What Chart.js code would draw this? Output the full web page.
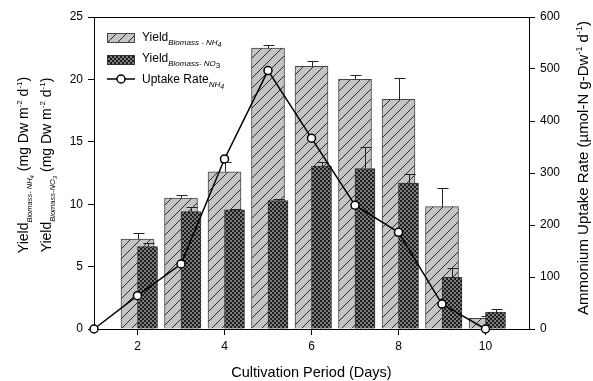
<!DOCTYPE html>
<html>
<head>
<meta charset="utf-8">
<script src="https://cdn.jsdelivr.net/npm/chart.js@4.4.1/dist/chart.umd.min.js"></script>
<style>
  html, body { margin: 0; padding: 0; background: #fff; }
  #wrap { width: 593px; height: 381px; }
</style>
</head>
<body>
<div id="wrap"><canvas id="c" width="593" height="381"></canvas></div>
<script>
// ── data ──
const days = [1, 2, 3, 4, 5, 6, 7, 8, 9, 10];
const barDays = [2, 3, 4, 5, 6, 7, 8, 9, 10];
const yieldNH4 = [7.2, 10.5, 12.6, 22.5, 21.05, 20.0, 18.4, 9.8, 0.85];
const yieldNH4Err = [0.48, 0.2, 0.8, 0.27, 0.42, 0.32, 1.74, 1.47, 0.2];
const yieldNO3 = [6.6, 9.4, 9.55, 10.3, 13.05, 12.85, 11.7, 4.15, 1.35];
const yieldNO3Err = [0.27, 0.4, 0.1, 0.08, 0.37, 1.77, 0.72, 0.77, 0.24];
const uptakeNH4 = [0, 64, 125, 327, 497, 367, 238, 186, 48, 0];
const xTicks = [2, 4, 6, 8, 10];
const leftTicks = [0, 5, 10, 15, 20, 25];
const rightTicks = [0, 100, 200, 300, 400, 500, 600];

const FONT = "'Liberation Sans', Arial, sans-serif";
const NO3_SHIFT = 0.23;   // NO3 bar sits just right of the day tick

Chart.defaults.font.family = FONT;
Chart.defaults.color = '#000';

function hatchPattern() {
  const c = document.createElement('canvas');
  c.width = 10; c.height = 10;
  const g = c.getContext('2d');
  g.fillStyle = '#c4c4c4';
  g.fillRect(0, 0, 10, 10);
  g.strokeStyle = '#2a2a2a';
  g.lineWidth = 1;
  g.beginPath();
  g.moveTo(-1, 11); g.lineTo(11, -1);
  g.moveTo(-1, 1); g.lineTo(1, -1);
  g.moveTo(9, 11); g.lineTo(11, 9);
  g.stroke();
  return g.createPattern(c, 'repeat');
}

function checkPattern() {
  const c = document.createElement('canvas');
  c.width = 4; c.height = 4;
  const g = c.getContext('2d');
  g.fillStyle = '#7c7c7c';
  g.fillRect(0, 0, 4, 4);
  g.fillStyle = '#1c1c1c';
  g.fillRect(0, 0, 2, 2);
  g.fillRect(2, 2, 2, 2);
  return g.createPattern(c, 'repeat');
}

const hatch = hatchPattern();
const check = checkPattern();

// parts: [text, size, style, dy]
function richText(ctx, parts, x, y, rot, align) {
  ctx.save();
  ctx.translate(x, y);
  ctx.rotate(rot || 0);
  ctx.textBaseline = 'alphabetic';
  ctx.textAlign = 'left';
  const fontOf = p => (p[2] || '') + ' ' + p[1] + 'px ' + FONT;
  let w = 0;
  parts.forEach(p => { ctx.font = fontOf(p); w += ctx.measureText(p[0]).width; });
  let cx = align === 'left' ? 0 : -w / 2;
  parts.forEach(p => {
    ctx.font = fontOf(p);
    ctx.fillText(p[0], cx, p[3] || 0);
    cx += ctx.measureText(p[0]).width;
  });
  ctx.restore();
}

const decor = {
  id: 'decor',
  afterDatasetDraw(chart, args) {
    const ds = chart.data.datasets[args.index];
    if (!ds.errors) return;
    const ctx = chart.ctx, ys = chart.scales.y;
    ctx.save();
    ctx.strokeStyle = '#222';
    ctx.lineWidth = 1;
    args.meta.data.forEach((bar, i) => {
      const top = Math.round(ys.getPixelForValue(ds.data[i].y + ds.errors[i])) + 0.5;
      const x = Math.round(bar.x) + 0.5;
      ctx.beginPath();
      ctx.moveTo(x, bar.y); ctx.lineTo(x, top);
      ctx.moveTo(x - 5, top); ctx.lineTo(x + 6, top);
      ctx.stroke();
    });
    ctx.restore();
  },
  afterDraw(chart) {
    const ctx = chart.ctx, a = chart.chartArea;
    ctx.save();
    // top frame line
    ctx.strokeStyle = '#000';
    ctx.lineWidth = 1;
    ctx.beginPath();
    ctx.moveTo(a.left, a.top + 0.5); ctx.lineTo(a.right, a.top + 0.5);
    ctx.stroke();

    // legend
    const lx = a.left + 13, tx = a.left + 48;
    ctx.fillStyle = hatch;
    ctx.fillRect(lx, a.top + 16, 28, 10);
    ctx.strokeStyle = '#444';
    ctx.strokeRect(lx + 0.5, a.top + 16.5, 27, 9);
    ctx.fillStyle = check;
    ctx.fillRect(lx, a.top + 38, 28, 10);
    ctx.strokeStyle = '#333';
    ctx.strokeRect(lx + 0.5, a.top + 38.5, 27, 9);
    ctx.strokeStyle = '#000';
    ctx.lineWidth = 1.5;
    ctx.beginPath();
    ctx.moveTo(lx, a.top + 62); ctx.lineTo(lx + 28, a.top + 62);
    ctx.stroke();
    ctx.beginPath();
    ctx.arc(lx + 14, a.top + 62, 4, 0, Math.PI * 2);
    ctx.fillStyle = '#fff';
    ctx.fill(); ctx.stroke();

    ctx.fillStyle = '#000';
    richText(ctx, [['Yield', 12], ['Biomass - NH', 8, 'italic', 4], ['4', 7, 'italic', 6]], tx, a.top + 24, 0, 'left');
    richText(ctx, [['Yield', 12], ['Biomass- NO', 8, 'italic', 4], ['3', 8, '', 6]], tx, a.top + 45, 0, 'left');
    richText(ctx, [['Uptake Rate', 12], ['NH', 8, 'italic', 4], ['4', 7, 'italic', 6]], tx, a.top + 66, 0, 'left');

    // axis titles
    const midY = (a.top + a.bottom) / 2;
    richText(ctx, [['Yield', 14], ['Biomass- NH', 7.5, 'italic', 4], ['4', 6, 'italic', 6],
      [' (mg Dw m', 14], ['-2', 8, '', -6], [' d', 14], ['-1', 8, '', -6], [')', 14]],
      28, midY - 8, -Math.PI / 2);
    richText(ctx, [['Yield', 14], ['Biomass-NO', 7.5, 'italic', 4], ['3', 6, 'italic', 6],
      [' (mg Dw m', 14], ['-2', 8, '', -6], [' d', 14], ['-1', 8, '', -6], [')', 14]],
      51, midY - 8, -Math.PI / 2);
    richText(ctx, [['Ammonium Uptake Rate (\u00b5mol-N g-Dw', 15], ['-1', 9, '', -6],
      [' d', 15], ['-1', 9, '', -6], [')', 15]],
      588, midY - 5, -Math.PI / 2);
    richText(ctx, [['Cultivation Period (Days)', 14.5]], (a.left + a.right) / 2, 377, 0);
    ctx.restore();
  }
};

const axisGrid = { drawOnChartArea: false, drawTicks: true, tickLength: 6, color: '#000' };
const axisBorder = { display: true, color: '#000', width: 1 };

new Chart(document.getElementById('c'), {
  type: 'bar',
  data: {
    datasets: [
      {
        type: 'line',
        label: 'Uptake Rate NH4',
        data: days.map((d, i) => ({ x: d, y: uptakeNH4[i] })),
        yAxisID: 'y1',
        borderColor: '#000',
        borderWidth: 1.5,
        pointRadius: 4,
        pointBackgroundColor: '#fff',
        pointBorderColor: '#000',
        pointBorderWidth: 1.5,
        tension: 0,
        clip: false,
        order: 0
      },
      {
        label: 'Yield Biomass-NO3',
        data: barDays.map((d, i) => ({ x: d + NO3_SHIFT, y: yieldNO3[i] })),
        errors: yieldNO3Err,
        yAxisID: 'y',
        backgroundColor: check,
        borderColor: '#333',
        borderWidth: 1,
        barThickness: 20,
        grouped: false,
        order: 1
      },
      {
        label: 'Yield Biomass-NH4',
        data: barDays.map((d, i) => ({ x: d, y: yieldNH4[i] })),
        errors: yieldNH4Err,
        yAxisID: 'y',
        backgroundColor: hatch,
        borderColor: '#444',
        borderWidth: 1,
        barThickness: 33,
        grouped: false,
        order: 2
      }
    ]
  },
  options: {
    responsive: false,
    animation: false,
    layout: { padding: { top: 17, left: 0, right: 0, bottom: 0 } },
    plugins: { legend: { display: false }, tooltip: { enabled: false } },
    scales: {
      x: {
        type: 'linear', min: 1, max: 11, offset: false,
        afterBuildTicks: s => { s.ticks = xTicks.map(v => ({ value: v })); },
        afterFit: s => { s.height = 52; },
        ticks: { font: { size: 12 }, padding: 4, color: '#000', autoSkip: false, maxRotation: 0 },
        grid: Object.assign({ offset: false }, axisGrid),
        border: axisBorder
      },
      y: {
        position: 'left', min: 0, max: 25,
        afterBuildTicks: s => { s.ticks = leftTicks.map(v => ({ value: v })); },
        afterFit: s => { s.width = 94; },
        ticks: { font: { size: 12 }, padding: 5, color: '#000' },
        grid: axisGrid,
        border: axisBorder
      },
      y1: {
        position: 'right', min: 0, max: 600,
        afterBuildTicks: s => { s.ticks = rightTicks.map(v => ({ value: v })); },
        afterFit: s => { s.width = 64; },
        ticks: { font: { size: 12 }, padding: 5, color: '#000' },
        grid: axisGrid,
        border: axisBorder
      }
    }
  },
  plugins: [decor]
});
</script>
</body>
</html>
